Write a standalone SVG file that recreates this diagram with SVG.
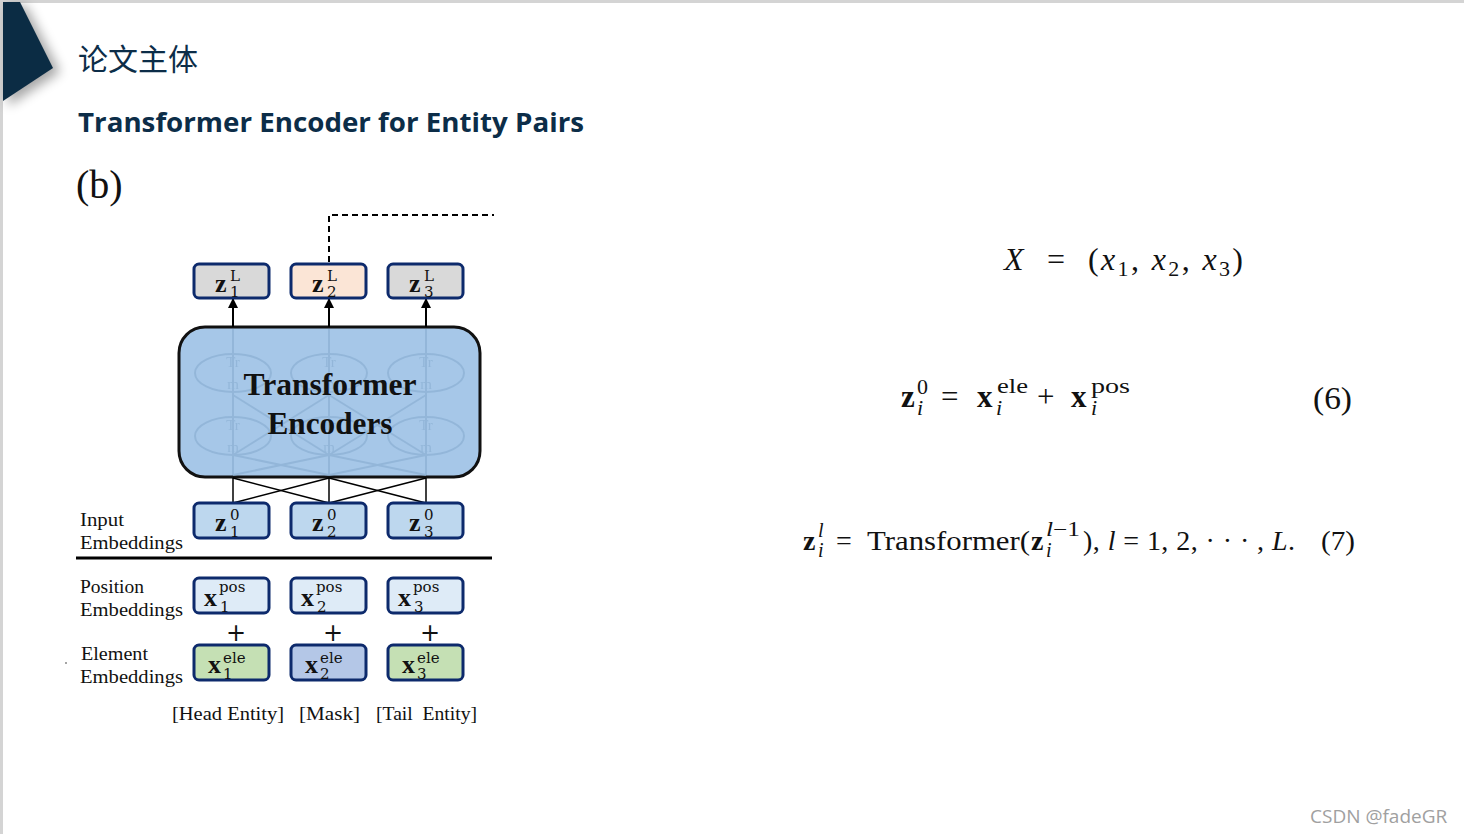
<svg xmlns="http://www.w3.org/2000/svg" width="1464" height="834" viewBox="0 0 1464 834">
<defs>
<style>
.bx{stroke:#0d2a6c;stroke-width:3}
.lbl{font-family:"Liberation Serif",serif;font-size:18px;fill:#111}
.bm{font-family:"Liberation Serif",serif;font-weight:bold;font-size:26px;fill:#111}
.sp{font-family:"DejaVu Serif","Liberation Serif",serif;font-size:15px;fill:#111}
.eq{font-family:"Liberation Serif",serif;fill:#111}
.ghost{fill:none;stroke:#8fb3d6;stroke-width:2}
.gt{font-family:"Liberation Serif",serif;font-size:15px;fill:#8fb3d6}
</style>
<marker id="ah" markerWidth="10" markerHeight="10" refX="9" refY="5" orient="auto" markerUnits="userSpaceOnUse" viewBox="0 0 10 10"><path d="M0,0 L10,5 L0,10 Z" fill="#000"/></marker>
<filter id="sh" x="-50%" y="-50%" width="200%" height="200%"><feGaussianBlur stdDeviation="6"/></filter>
</defs>
<rect x="0" y="0" width="1464" height="834" fill="#fff"/>
<rect x="0" y="0" width="1464" height="3" fill="#d4d4d4"/>
<rect x="0" y="0" width="3" height="834" fill="#d4d4d4"/>
<g id="corner">
<polygon points="8,6 26,6 60,72 8,106" fill="#000" opacity="0.35" filter="url(#sh)"/>
<polygon points="3,2 20,2 53,68 3,101" fill="#0b2c44"/>
</g>
<g id="titles">
<text x="78" y="70" font-family="'Noto Sans CJK SC',sans-serif" font-size="30" fill="#0c2d48">论文主体</text>
<text x="78" y="132" font-family="'Open Sans','Noto Sans',sans-serif" font-weight="bold" font-size="27" fill="#0c2d48" textLength="506" lengthAdjust="spacingAndGlyphs">Transformer Encoder for Entity Pairs</text>
<text x="76" y="198" font-family="'Liberation Serif',serif" font-size="40" fill="#111">(b)</text>
</g>
<g id="encoder">
<rect x="179" y="327" width="301" height="150" rx="26" fill="#a6c7e8" stroke="#111" stroke-width="3"/>
<g opacity="0.8">
<line x1="233" y1="329" x2="233" y2="475" class="ghost" stroke-width="1.5"/>
<line x1="329" y1="329" x2="329" y2="475" class="ghost" stroke-width="1.5"/>
<line x1="426" y1="329" x2="426" y2="475" class="ghost" stroke-width="1.5"/>
<line x1="233" y1="455" x2="329" y2="395" class="ghost" stroke-width="1.5"/>
<line x1="329" y1="455" x2="233" y2="395" class="ghost" stroke-width="1.5"/>
<line x1="329" y1="455" x2="426" y2="395" class="ghost" stroke-width="1.5"/>
<line x1="426" y1="455" x2="329" y2="395" class="ghost" stroke-width="1.5"/>
<line x1="233" y1="475" x2="329" y2="455" class="ghost" stroke-width="1.5"/>
<line x1="329" y1="475" x2="233" y2="455" class="ghost" stroke-width="1.5"/>
<line x1="329" y1="475" x2="426" y2="455" class="ghost" stroke-width="1.5"/>
<line x1="426" y1="475" x2="329" y2="455" class="ghost" stroke-width="1.5"/>
<ellipse cx="233" cy="373" rx="38" ry="19" class="ghost"/>
<ellipse cx="329" cy="373" rx="38" ry="19" class="ghost"/>
<ellipse cx="426" cy="373" rx="38" ry="19" class="ghost"/>
<ellipse cx="233" cy="436" rx="38" ry="19" class="ghost"/>
<ellipse cx="329" cy="436" rx="38" ry="19" class="ghost"/>
<ellipse cx="426" cy="436" rx="38" ry="19" class="ghost"/>
<g class="gt" text-anchor="middle">
<text x="233" y="367">Tr</text><text x="329" y="367">Tr</text><text x="426" y="367">Tr</text>
<text x="233" y="389">m</text><text x="329" y="389">m</text><text x="426" y="389">m</text>
<text x="233" y="430">Tr</text><text x="329" y="430">Tr</text><text x="426" y="430">Tr</text>
<text x="233" y="452">m</text><text x="329" y="452">m</text><text x="426" y="452">m</text>
</g>
</g>
<text x="330" y="395" text-anchor="middle" font-family="'Liberation Serif',serif" font-weight="bold" font-size="31" fill="#111" textLength="173" lengthAdjust="spacingAndGlyphs">Transformer</text>
<text x="330" y="434" text-anchor="middle" font-family="'Liberation Serif',serif" font-weight="bold" font-size="31" fill="#111" textLength="125" lengthAdjust="spacingAndGlyphs">Encoders</text>
</g>
<g id="connectors" stroke="#000" stroke-width="2" fill="none">
<line x1="233" y1="327" x2="233" y2="299" marker-end="url(#ah)"/>
<line x1="329" y1="327" x2="329" y2="299" marker-end="url(#ah)"/>
<line x1="426" y1="327" x2="426" y2="299" marker-end="url(#ah)"/>
<line x1="233" y1="503" x2="233" y2="478" stroke-width="1.5"/>
<line x1="329" y1="503" x2="329" y2="478" stroke-width="1.5"/>
<line x1="426" y1="503" x2="426" y2="478" stroke-width="1.5"/>
<line x1="233" y1="503" x2="329" y2="478" stroke-width="1.5"/>
<line x1="329" y1="503" x2="233" y2="478" stroke-width="1.5"/>
<line x1="329" y1="503" x2="426" y2="478" stroke-width="1.5"/>
<line x1="426" y1="503" x2="329" y2="478" stroke-width="1.5"/>
<polyline points="329,262 329,215 494,215" stroke-width="2" stroke-dasharray="6,4"/>
<line x1="76" y1="558" x2="492" y2="558" stroke="#000" stroke-width="3"/>
</g>
<g id="zL1"><rect x="194" y="264" width="75" height="34" rx="5" fill="#d9d9d9" class="bx"/><text x="215" y="292" class="bm">z</text><text x="230" y="281" class="sp">L</text><text x="230" y="297" class="sp">1</text></g>
<g id="zL2"><rect x="291" y="264" width="75" height="34" rx="5" fill="#fbe5d6" class="bx"/><text x="312" y="292" class="bm">z</text><text x="327" y="281" class="sp">L</text><text x="327" y="297" class="sp">2</text></g>
<g id="zL3"><rect x="388" y="264" width="75" height="34" rx="5" fill="#d9d9d9" class="bx"/><text x="409" y="292" class="bm">z</text><text x="424" y="281" class="sp">L</text><text x="424" y="297" class="sp">3</text></g>
<g id="z01"><rect x="194" y="503" width="75" height="35" rx="5" fill="#bdd7ee" class="bx"/><text x="215" y="531" class="bm">z</text><text x="230" y="520" class="sp">0</text><text x="230" y="537" class="sp">1</text></g>
<g id="z02"><rect x="291" y="503" width="75" height="35" rx="5" fill="#bdd7ee" class="bx"/><text x="312" y="531" class="bm">z</text><text x="327" y="520" class="sp">0</text><text x="327" y="537" class="sp">2</text></g>
<g id="z03"><rect x="388" y="503" width="75" height="35" rx="5" fill="#bdd7ee" class="bx"/><text x="409" y="531" class="bm">z</text><text x="424" y="520" class="sp">0</text><text x="424" y="537" class="sp">3</text></g>
<g id="pos1"><rect x="194" y="578" width="75" height="35" rx="5" fill="#deebf7" class="bx"/><text x="204" y="606" class="bm">x</text><text x="219" y="592" class="sp">pos</text><text x="220" y="612" class="sp">1</text></g>
<g id="pos2"><rect x="291" y="578" width="75" height="35" rx="5" fill="#deebf7" class="bx"/><text x="301" y="606" class="bm">x</text><text x="316" y="592" class="sp">pos</text><text x="317" y="612" class="sp">2</text></g>
<g id="pos3"><rect x="388" y="578" width="75" height="35" rx="5" fill="#deebf7" class="bx"/><text x="398" y="606" class="bm">x</text><text x="413" y="592" class="sp">pos</text><text x="414" y="612" class="sp">3</text></g>
<g id="ele1"><rect x="194" y="645" width="75" height="35" rx="5" fill="#c5e0b4" class="bx"/><text x="208" y="673" class="bm">x</text><text x="223" y="663" class="sp">ele</text><text x="223" y="679" class="sp">1</text></g>
<g id="ele2"><rect x="291" y="645" width="75" height="35" rx="5" fill="#b4c7e7" class="bx"/><text x="305" y="673" class="bm">x</text><text x="320" y="663" class="sp">ele</text><text x="320" y="679" class="sp">2</text></g>
<g id="ele3"><rect x="388" y="645" width="75" height="35" rx="5" fill="#c5e0b4" class="bx"/><text x="402" y="673" class="bm">x</text><text x="417" y="663" class="sp">ele</text><text x="417" y="679" class="sp">3</text></g>
<g id="plus" font-family="'DejaVu Sans',sans-serif" font-size="24" fill="#111" text-anchor="middle">
<text x="236" y="641">+</text><text x="333" y="641">+</text><text x="430" y="641">+</text>
</g>
<g id="labels">
<text x="80" y="526" class="lbl" textLength="44" lengthAdjust="spacingAndGlyphs">Input</text>
<text x="80" y="549" class="lbl" textLength="103" lengthAdjust="spacingAndGlyphs">Embeddings</text>
<text x="80" y="593" class="lbl" textLength="64" lengthAdjust="spacingAndGlyphs">Position</text>
<text x="80" y="616" class="lbl" textLength="103" lengthAdjust="spacingAndGlyphs">Embeddings</text>
<text x="81" y="660" class="lbl" textLength="67" lengthAdjust="spacingAndGlyphs">Element</text>
<text x="80" y="683" class="lbl" textLength="103" lengthAdjust="spacingAndGlyphs">Embeddings</text>
<text x="172" y="720" class="lbl" font-size="19" textLength="112" lengthAdjust="spacingAndGlyphs">[Head Entity]</text>
<text x="299" y="720" class="lbl" font-size="19" textLength="61" lengthAdjust="spacingAndGlyphs">[Mask]</text>
<text x="376" y="720" class="lbl" font-size="19" xml:space="preserve" textLength="101" lengthAdjust="spacingAndGlyphs">[Tail  Entity]</text>
<circle cx="66" cy="663" r="0.8" fill="#333"/>
</g>
<g id="eqX" class="eq" font-size="32">
<text x="1004" y="270" font-style="italic">X</text>
<text x="1047" y="270">=</text>
<text x="1088" y="270" textLength="155" lengthAdjust="spacing">(<tspan font-style="italic">x</tspan><tspan font-size="22" dy="6">1</tspan><tspan dy="-6">, </tspan><tspan font-style="italic">x</tspan><tspan font-size="22" dy="6">2</tspan><tspan dy="-6">, </tspan><tspan font-style="italic">x</tspan><tspan font-size="22" dy="6">3</tspan><tspan dy="-6">)</tspan></text>
</g>
<g id="eq6" class="eq" font-size="31">
<text x="901" y="407" font-weight="bold">z</text>
<text x="917" y="394" font-size="22">0</text>
<text x="917" y="415" font-size="22" font-style="italic">i</text>
<text x="941" y="407">=</text>
<text x="977" y="407" font-weight="bold">x</text>
<text x="997" y="393" font-size="22" textLength="31" lengthAdjust="spacingAndGlyphs">ele</text>
<text x="996" y="415" font-size="22" font-style="italic">i</text>
<text x="1037" y="407">+</text>
<text x="1071" y="407" font-weight="bold">x</text>
<text x="1091" y="393" font-size="22" textLength="39" lengthAdjust="spacingAndGlyphs">pos</text>
<text x="1091" y="415" font-size="22" font-style="italic">i</text>
<text x="1313" y="409" textLength="39" lengthAdjust="spacingAndGlyphs">(6)</text>
</g>
<g id="eq7" class="eq" font-size="28">
<text x="803" y="550" font-weight="bold">z</text>
<text x="818" y="537" font-size="20" font-style="italic">l</text>
<text x="818" y="557" font-size="20" font-style="italic">i</text>
<text x="836" y="550">=</text>
<text x="867" y="550" textLength="163" lengthAdjust="spacingAndGlyphs">Transformer(</text>
<text x="1031" y="550" font-weight="bold">z</text>
<text x="1046" y="536" font-size="20" textLength="34" lengthAdjust="spacingAndGlyphs"><tspan font-style="italic">l</tspan>−1</text>
<text x="1046" y="557" font-size="20" font-style="italic">i</text>
<text x="1083" y="550" textLength="212" lengthAdjust="spacing">), <tspan font-style="italic">l</tspan> = 1, 2, · · · , <tspan font-style="italic">L</tspan>.</text>
<text x="1321" y="550" textLength="34" lengthAdjust="spacingAndGlyphs">(7)</text>
</g>
<text id="wm" x="1310" y="823" font-family="'Open Sans','Noto Sans',sans-serif" font-size="19" fill="#a0a0a0">CSDN @fadeGR</text>
</svg>
